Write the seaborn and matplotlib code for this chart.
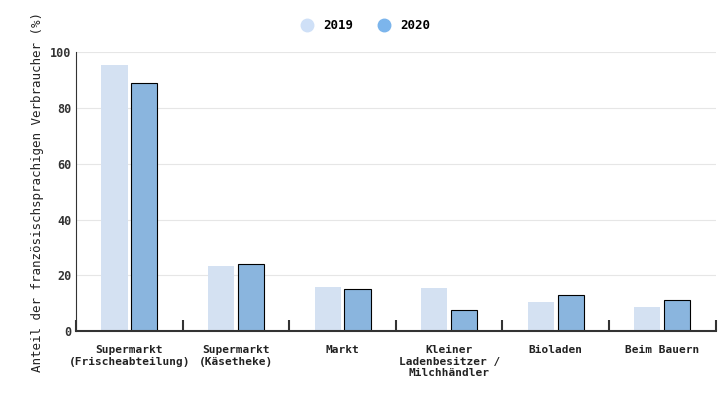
import matplotlib
matplotlib.use("Agg")
import matplotlib.pyplot as plt
from matplotlib.lines import Line2D
import pandas as pd
import seaborn as sns

categories = ["Supermarkt\n(Frischeabteilung)", "Supermarkt\n(Käsetheke)", "Markt",
              "Kleiner\nLadenbesitzer /\nMilchhändler", "Bioladen", "Beim Bauern"]
values_2019 = [95.5, 23.5, 16, 15.5, 10.5, 8.5]
values_2020 = [89, 24, 15, 7.5, 13, 11]
years = ["2019", "2020"]
colors = {"2019": "#cfe0f7", "2020": "#7cb5ec"}

df = pd.DataFrame({
    "cat": categories * 2,
    "year": ["2019"] * 6 + ["2020"] * 6,
    "val": values_2019 + values_2020,
})

plt.rcParams["font.family"] = "DejaVu Sans Mono"
plt.rcParams["font.weight"] = "bold"
fig = plt.figure(figsize=(7.25, 4), dpi=100)
ax = fig.add_axes([0.105, 0.172, 0.882, 0.698])
sns.barplot(data=df, x="cat", y="val", hue="year", palette=colors, width=0.56,
            gap=0.12, ax=ax, legend=False)
for p, yr in zip(ax.patches, ["2019"] * 6 + ["2020"] * 6):
    if yr == "2020":
        p.set_edgecolor("black"); p.set_linewidth(0.8)
    else:
        p.set_edgecolor("none")

ax.set_ylim(0, 100)
ax.set_xlim(-0.5, 5.5)
ax.set_yticks([0, 20, 40, 60, 80, 100])
ax.yaxis.grid(True, color="#e6e6e6", linewidth=0.8)
ax.set_axisbelow(True)
for s in ["top", "right"]:
    ax.spines[s].set_visible(False)
ax.spines["left"].set_color("#333333")
ax.spines["bottom"].set_color("#333333")
ax.spines["bottom"].set_linewidth(1.5)
ax.tick_params(axis="y", length=0, labelsize=8.5, colors="#333333")
ax.set_xticks(range(6))
ax.set_xticklabels(categories, fontsize=8, color="#222222")
ax.tick_params(axis="x", length=0, pad=10)
ax.set_xticks([i - 0.5 for i in range(7)], minor=True)
ax.tick_params(axis="x", which="minor", length=8, width=1.5, color="#333333", direction="in")
for lbl in ax.get_xticklabels():
    lbl.set_verticalalignment("top")
ax.set_xlabel("")
ax.set_ylabel("Anteil der französischsprachigen Verbraucher (%)", fontsize=9, color="#222222")

handles = [Line2D([], [], marker="o", linestyle="", markersize=9, color=colors[y]) for y in years]
fig.legend(handles, years, loc="upper center", bbox_to_anchor=(0.5, 0.98), ncol=2,
           frameon=False, fontsize=9, handletextpad=0.3, columnspacing=1.5)
fig.savefig("out.png", dpi=100)
